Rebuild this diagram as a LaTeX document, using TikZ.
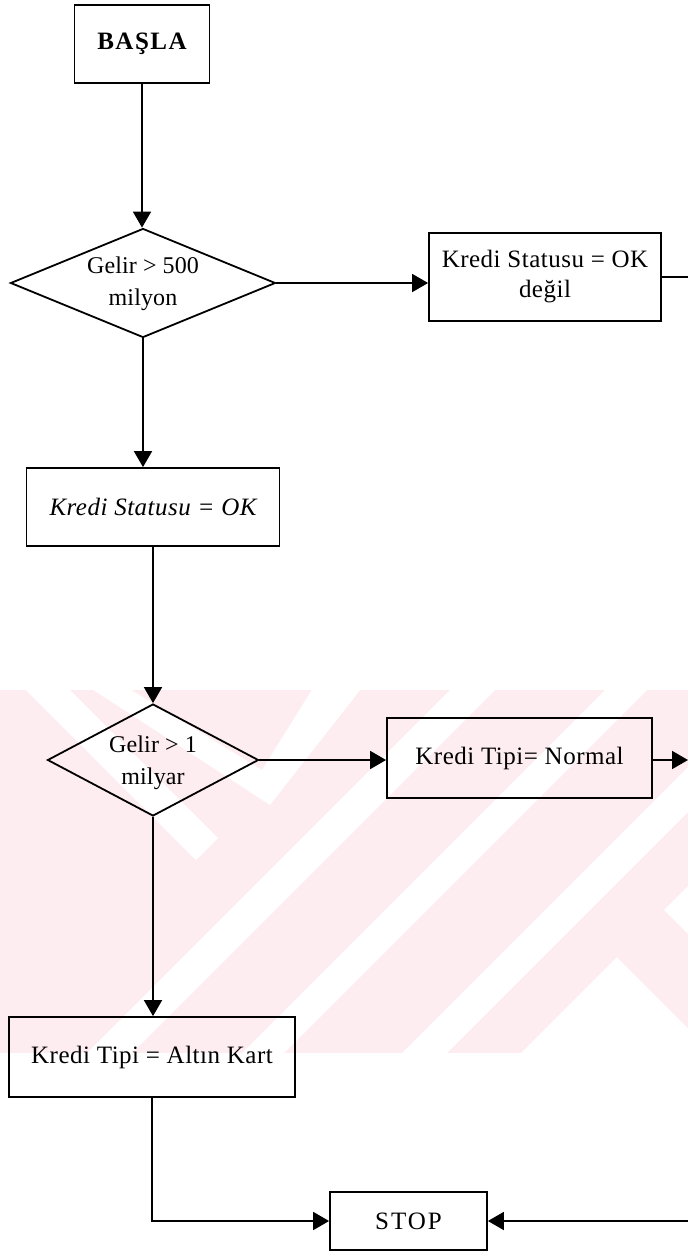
\documentclass[tikz,border=0pt]{standalone}
\usepackage{fontspec}
\setmainfont{Liberation Serif}[LetterSpace=2]
\usetikzlibrary{shapes.geometric,arrows.meta}
\newcommand\flowfont{\fontsize{12.5}{15}\selectfont}
\definecolor{wmpink}{RGB}{253,236,240}
\tikzset{
  box/.style={draw, line width=0.9pt, rectangle, inner sep=2pt, align=center, font=\flowfont},
  decision/.style={draw, diamond, line width=0.9pt, inner sep=0pt},
  dtext/.style={align=center, inner sep=0pt,
    font=\fontsize{12}{16}\selectfont\addfontfeature{LetterSpace=0.5}},
  flow/.style={line width=0.9pt, -{Triangle[length=8pt,width=9pt]}},
  link/.style={line width=0.9pt},
}
\begin{document}
\begin{tikzpicture}[x=0.5pt,y=-0.5pt]
\path[use as bounding box] (0,0) rectangle (688,1254);
\fill[white] (0,0) rectangle (688,1254);

% pale striped emblem in the background
\begin{scope}
  \clip (0,690) rectangle (688,1053);
  \fill[wmpink] (0,690) rectangle (688,1053);
  \fill[white] (16,680) -- (60,680) -- (218,838) -- (196,860) -- cycle;
  \fill[white] (78,680) -- (115,680) -- (262,770) -- (318,680) -- (368,680) -- (270,805) -- cycle;
  \fill[white] (460,680) -- (505,680) -- (122,1063) -- (77,1063) -- cycle;
  \fill[white] (615,680) -- (657,680) -- (274,1063) -- (232,1063) -- cycle;
  \fill[white] (775,680) -- (820,680) -- (437,1063) -- (392,1063) -- cycle;
  \fill[white] (511,1063) -- (700,874) -- (700,1063) -- cycle;
  \fill[wmpink] (617,957) -- (664,910) -- (817,1063) -- (723,1063) -- cycle;
\end{scope}

% nodes
\node[box, minimum width=67.5pt, minimum height=39pt, font=\flowfont\bfseries\addfontfeature{LetterSpace=6}]
  (start) at (142,44) {BAŞLA};
\node[decision, minimum width=132.5pt, minimum height=54.5pt] (d1) at (143,283) {};
\node[dtext] (d1text) at (143,284) {Gelir > 500\\milyon};
\node[box, minimum width=116pt, minimum height=44pt] (notok) at (545,277)
  {Kredi Statusu = OK\\değil};
\node[box, minimum width=126.5pt, minimum height=39pt, font=\flowfont\itshape]
  (ok) at (153,507) {Kredi Statusu = OK};
\node[decision, minimum width=105.5pt, minimum height=56pt] (d2) at (153,760) {};
\node[dtext] (d2text) at (153,763) {Gelir > 1\\milyar};
\node[box, minimum width=132.5pt, minimum height=40pt] (normal) at (519.5,758)
  {Kredi Tipi= Normal};
\node[box, minimum width=143pt, minimum height=40pt] (altin) at (152,1057)
  {Kredi Tipi = Altın Kart};
\node[box, minimum width=78.5pt, minimum height=29pt,
  font=\flowfont\addfontfeature{LetterSpace=8}] (stop) at (408.5,1221) {STOP};

% loose ends at the right border
\coordinate (outA) at (688,277);
\coordinate (outB) at (688,760);
\coordinate (outC) at (688,1221);

% connectors
\draw[flow] (start.south) -- (start.south |- d1.north);
\draw[flow] (d1.east) -- (d1.east -| notok.west);
\draw[link] (notok.east) -- (outA);
\draw[flow] (d1.south) -- (d1.south |- ok.north);
\draw[flow] (ok.south) -- (ok.south |- d2.north);
\draw[flow] (d2.east) -- (d2.east -| normal.west);
\draw[flow] (normal.east |- d2.east) -- (outB);
\draw[flow] (d2.south) -- (d2.south |- altin.north);
\draw[flow] (altin.south) |- (stop.west);
\draw[flow] (outC) -- (stop.east);
\end{tikzpicture}
\end{document}
